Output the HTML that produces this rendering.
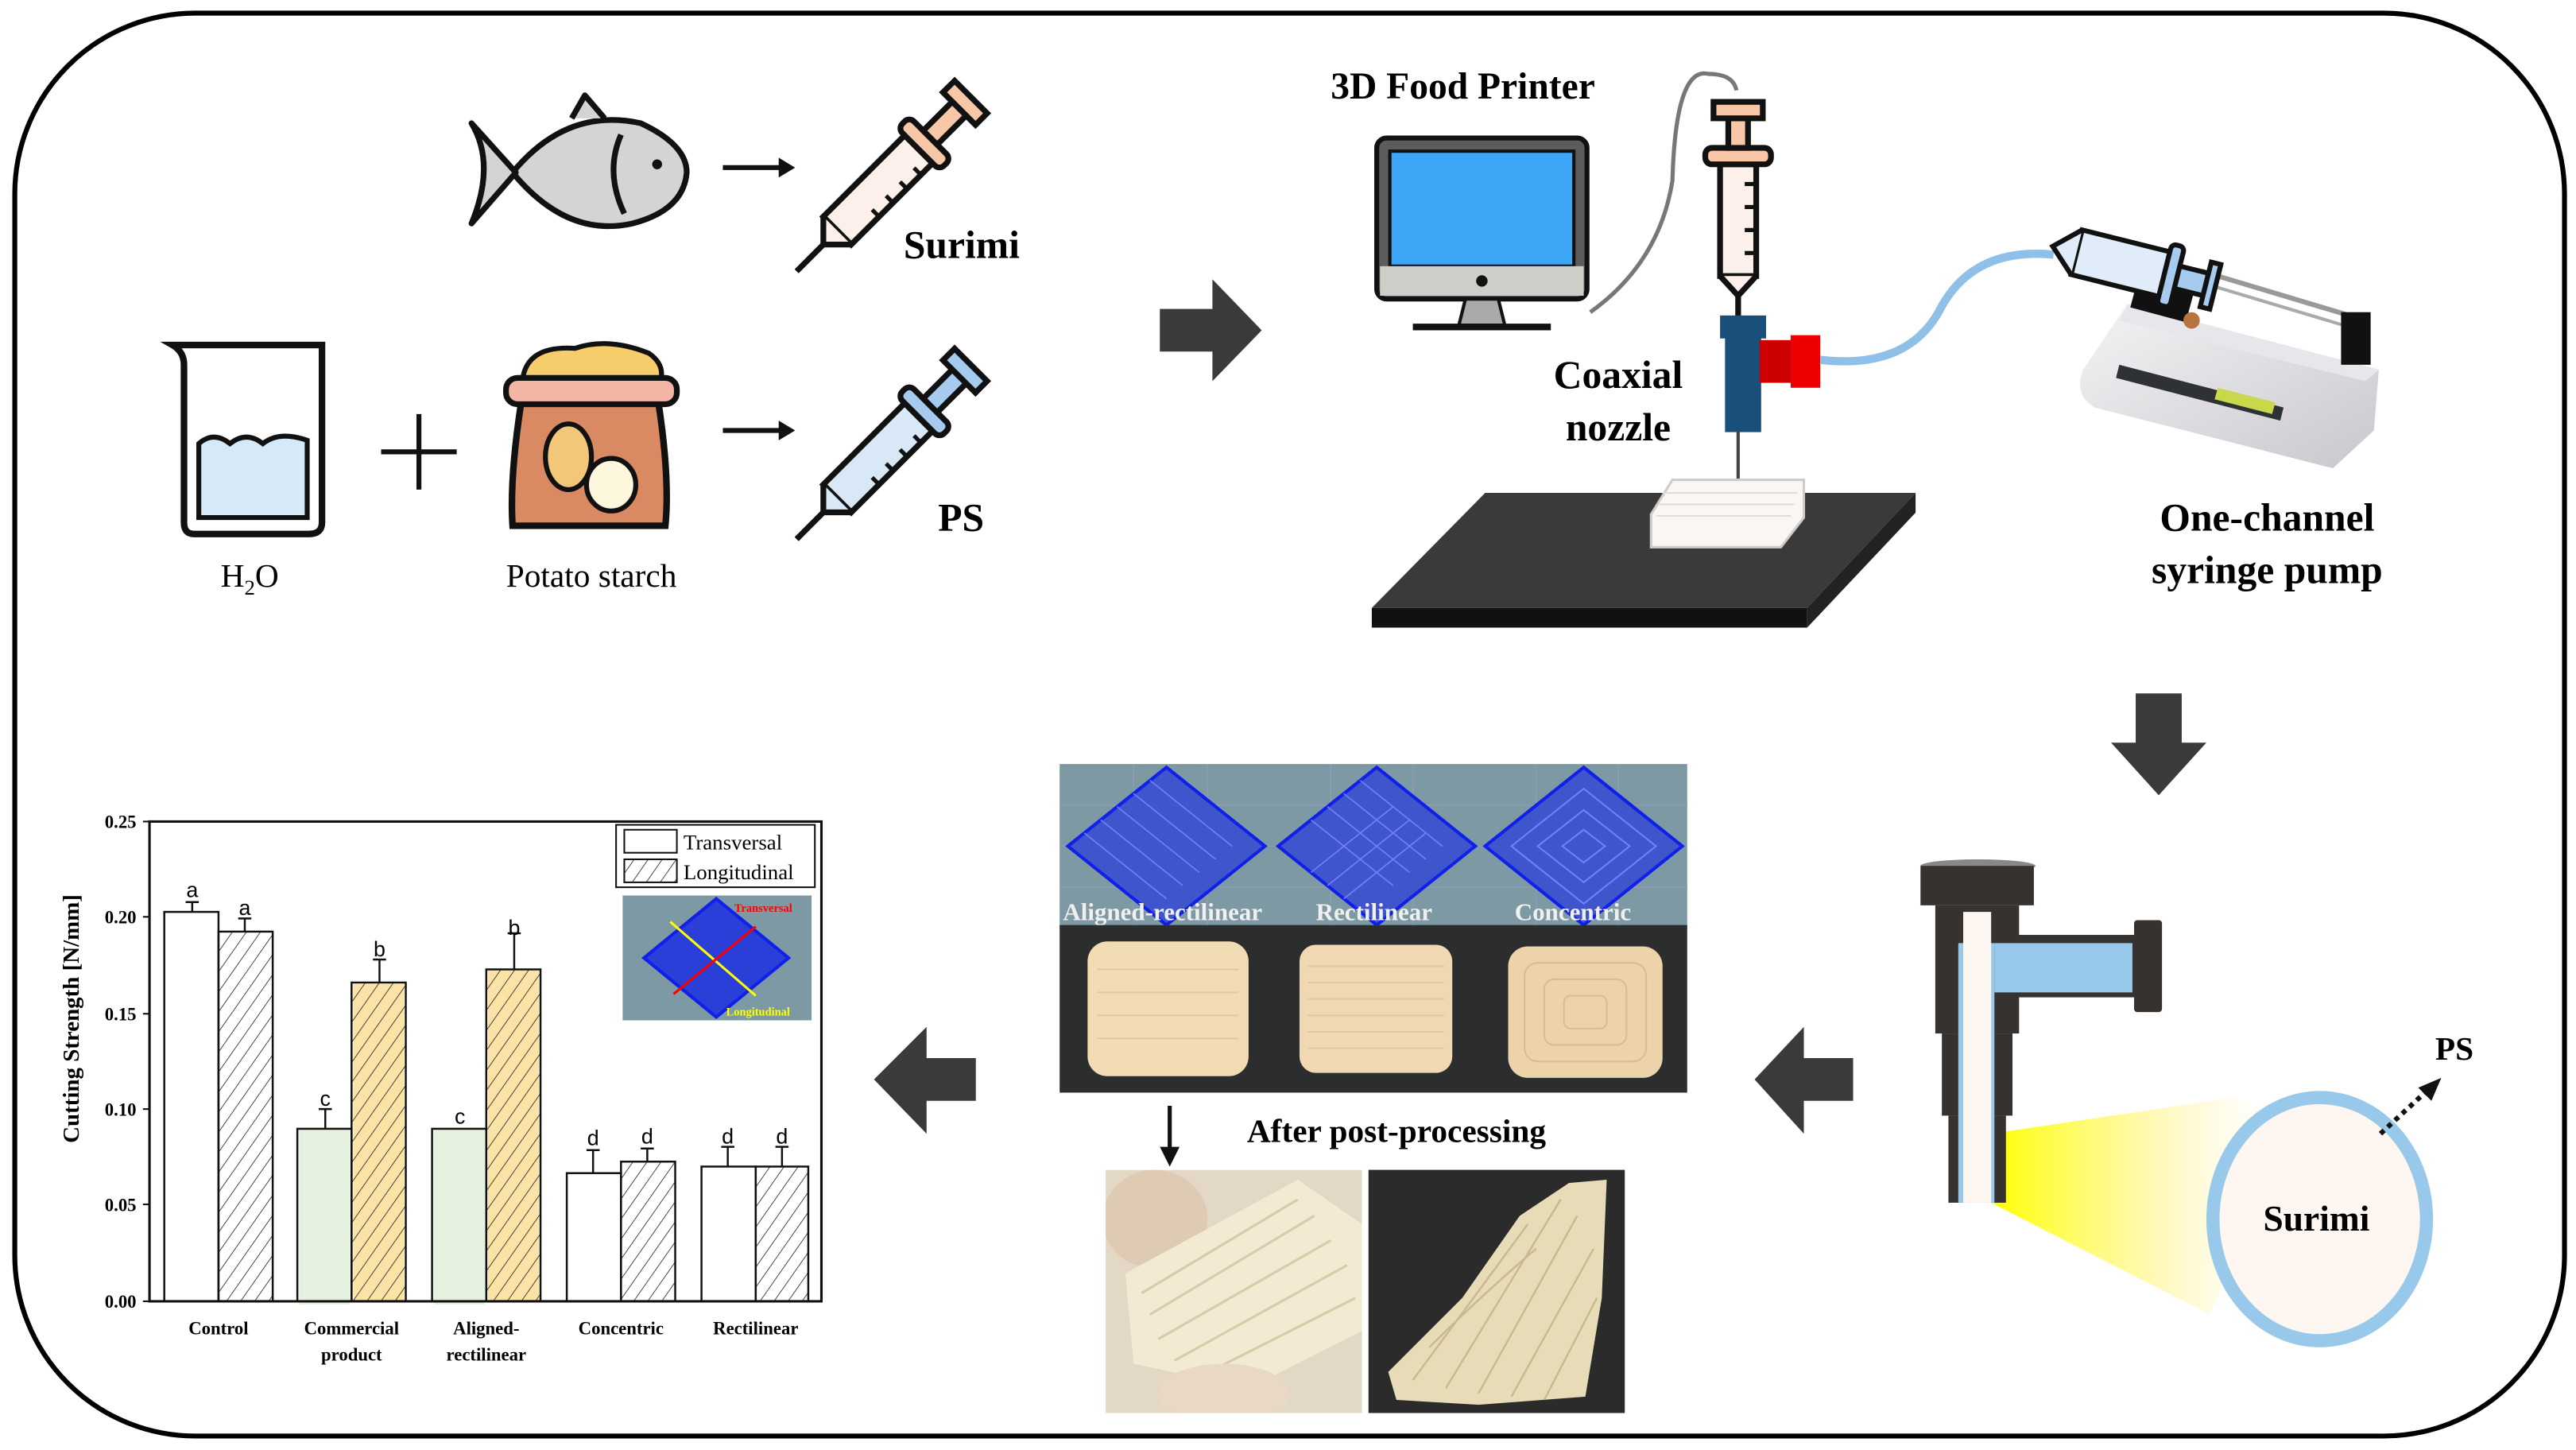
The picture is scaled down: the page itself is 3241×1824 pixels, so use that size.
<!DOCTYPE html>
<html><head><meta charset="utf-8"><style>
html,body{margin:0;padding:0;background:#fff;}
svg{display:block;}
.s{font-family:"Liberation Serif",serif;}
.b{font-family:"Liberation Serif",serif;font-weight:bold;}
.a{font-family:"Liberation Sans",sans-serif;}
</style></head><body>
<svg width="3241" height="1824" viewBox="0 0 1568 882.5" preserveAspectRatio="none" xmlns="http://www.w3.org/2000/svg">
<defs>
<pattern id="h" width="7" height="7" patternUnits="userSpaceOnUse" patternTransform="rotate(35)"><line x1="0" y1="0" x2="0" y2="7" stroke="#222" stroke-width="0.8"/></pattern>
<linearGradient id="yl" x1="0" x2="1"><stop offset="0" stop-color="#ffff00"/><stop offset="0.6" stop-color="#fff6b0" stop-opacity="0.7"/><stop offset="1" stop-color="#fff" stop-opacity="0"/></linearGradient>
<linearGradient id="pump" x1="0" x2="1" y1="0" y2="1"><stop offset="0" stop-color="#f4f3f5"/><stop offset="1" stop-color="#c9c7cc"/></linearGradient>
<clipPath id="p1"><rect x="673" y="712" width="156" height="148"/></clipPath>
</defs>
<rect x="9" y="8" width="1552" height="866" rx="110" fill="#fff" stroke="#000" stroke-width="3"/>

<g stroke="#111" stroke-width="3.5" stroke-linejoin="round">
<path d="M312,105 Q345,65 390,75 Q418,88 418,105 Q416,128 385,136 Q345,145 312,105Z" fill="#d4d4d4"/>
<path d="M314,105 L287,75 Q302,100 287,136 Z" fill="#d4d4d4"/>
<path d="M348,72 L356,58 L368,72" fill="#d4d4d4"/>
<path d="M378,82 Q368,105 380,130" fill="none"/>
</g>
<circle cx="400" cy="100" r="3" fill="#111"/>
<g stroke="#111" stroke-width="3"><line x1="440" y1="102" x2="476" y2="102"/><line x1="440" y1="262" x2="476" y2="262"/></g>
<path d="M474,96 L484,102 L474,108Z M474,256 L484,262 L474,268Z" fill="#111"/>
<g transform="translate(545,105) rotate(45)" stroke="#111" stroke-width="3.5">
<line x1="0" y1="60" x2="0" y2="85"/><rect x="-12" y="-20" width="24" height="70" fill="#fdf0ea"/><path d="M-12,50 L0,62 L12,50" fill="#fdf0ea"/>
<g stroke-width="2.5"><line x1="6" y1="-10" x2="12" y2="-10"/><line x1="6" y1="2" x2="12" y2="2"/><line x1="6" y1="14" x2="12" y2="14"/><line x1="6" y1="26" x2="12" y2="26"/></g>
<rect x="-18" y="-30" width="36" height="10" rx="4" fill="#f7c7a8"/><rect x="-6" y="-55" width="12" height="25" fill="#f7c7a8"/><rect x="-14" y="-65" width="28" height="10" fill="#f7c7a8"/>
</g>
<g transform="translate(545,268) rotate(45)" stroke="#111" stroke-width="3.5">
<line x1="0" y1="60" x2="0" y2="85"/><rect x="-12" y="-20" width="24" height="70" fill="#d8e8f7"/><path d="M-12,50 L0,62 L12,50" fill="#d8e8f7"/>
<g stroke-width="2.5"><line x1="6" y1="-10" x2="12" y2="-10"/><line x1="6" y1="2" x2="12" y2="2"/><line x1="6" y1="14" x2="12" y2="14"/><line x1="6" y1="26" x2="12" y2="26"/></g>
<rect x="-18" y="-30" width="36" height="10" rx="4" fill="#a7cbef"/><rect x="-6" y="-55" width="12" height="25" fill="#a7cbef"/><rect x="-14" y="-65" width="28" height="10" fill="#a7cbef"/>
</g>
<text x="550" y="157" class="b" font-size="24">Surimi</text>
<text x="571" y="323" class="b" font-size="24">PS</text>
<path d="M105,210 L196,210 L196,318 Q196,325 188,325 L118,325 Q112,325 112,318 L112,222 Q112,214 105,210Z" fill="#fff" stroke="#111" stroke-width="4"/>
<path d="M121,270 Q130,262 140,270 Q150,262 160,270 Q170,262 187,268 L187,315 L121,315Z" fill="#d6e9f8" stroke="#111" stroke-width="3"/>
<g stroke="#111" stroke-width="3"><line x1="255" y1="252" x2="255" y2="298"/><line x1="232" y1="275" x2="278" y2="275"/></g>
<path d="M318,240 Q310,290 312,320 L405,320 Q408,290 400,240Z" fill="#d98a63" stroke="#111" stroke-width="4"/>
<path d="M318,232 Q320,210 350,212 Q370,205 395,215 Q405,222 402,232Z" fill="#f6cd6b" stroke="#111" stroke-width="3"/>
<rect x="308" y="230" width="104" height="16" rx="7" fill="#f3b6a4" stroke="#111" stroke-width="3.5"/>
<ellipse cx="346" cy="278" rx="14" ry="20" fill="#f3c77a" stroke="#111" stroke-width="3"/>
<ellipse cx="372" cy="295" rx="15" ry="16" fill="#fdf7dd" stroke="#111" stroke-width="3"/>
<text x="152" y="357" class="s" font-size="20" text-anchor="middle">H<tspan font-size="13" dy="5">2</tspan><tspan dy="-5">O</tspan></text>
<text x="360" y="357" class="s" font-size="20" text-anchor="middle">Potato starch</text>

<g fill="#3a3a3a">
<path d="M706,188 L738,188 L738,170 L768,201 L738,232 L738,214 L706,214Z"/>
<path d="M1300,422 L1328,422 L1328,452 L1343,452 L1314,484 L1285,452 L1300,452Z"/>
<path d="M1128,644 L1098,644 L1098,625 L1068,657 L1098,690 L1098,670 L1128,670Z"/>
<path d="M594,644 L564,644 L564,625 L532,657 L564,690 L564,670 L594,670Z"/>
</g>

<text x="810" y="60" class="b" font-size="23">3D Food Printer</text>
<path d="M968,190 Q1010,160 1018,110 Q1020,40 1040,45 Q1055,45 1057,55" fill="none" stroke="#777" stroke-width="2.5"/>
<rect x="838" y="84" width="128" height="98" rx="6" fill="#5a5c5e" stroke="#111" stroke-width="3"/>
<rect x="846" y="92" width="112" height="70" fill="#3ea6f7" stroke="#111" stroke-width="2"/>
<rect x="840" y="162" width="124" height="18" fill="#d0cec9"/>
<circle cx="902" cy="171" r="3.5" fill="#111"/>
<path d="M892,182 L912,182 L916,198 L888,198Z" fill="#aaa" stroke="#111" stroke-width="2"/>
<line x1="860" y1="199" x2="944" y2="199" stroke="#111" stroke-width="4"/>
<g stroke="#111" stroke-width="3.5">
<rect x="1047" y="100" width="22" height="68" fill="#fdf0ea"/><path d="M1047,168 L1058,180 L1069,168" fill="#fdf0ea"/>
<g stroke-width="2.5"><line x1="1062" y1="112" x2="1069" y2="112"/><line x1="1062" y1="126" x2="1069" y2="126"/><line x1="1062" y1="140" x2="1069" y2="140"/><line x1="1062" y1="154" x2="1069" y2="154"/></g>
<rect x="1038" y="90" width="40" height="10" rx="4" fill="#f7c7a8"/><rect x="1052" y="72" width="12" height="18" fill="#f7c7a8"/><rect x="1043" y="62" width="30" height="10" fill="#f7c7a8"/>
<line x1="1058" y1="180" x2="1058" y2="193"/>
</g>
<rect x="1047" y="192" width="28" height="14" fill="#1a4f7a"/>
<rect x="1050" y="205" width="22" height="58" fill="#1a4f7a"/>
<rect x="1071" y="207" width="22" height="26" fill="#c00"/><rect x="1090" y="204" width="18" height="32" fill="#e00"/>
<line x1="1058" y1="262" x2="1058" y2="295" stroke="#444" stroke-width="2"/>
<path d="M904,300 L1166,300 L1100,370 L835,370Z" fill="#3a3a3a"/>
<path d="M835,370 L1100,370 L1100,382 L835,382Z" fill="#111"/>
<path d="M1100,370 L1166,300 L1166,312 L1100,382Z" fill="#222"/>
<path d="M1018,292 L1098,292 L1098,315 L1084,333 L1005,333 L1005,313Z" fill="#fbf6f1" stroke="#ccc" stroke-width="1.5"/>
<g stroke="#ddd" stroke-width="1"><line x1="1012" y1="300" x2="1094" y2="300"/><line x1="1010" y1="307" x2="1092" y2="307"/><line x1="1008" y1="314" x2="1090" y2="314"/></g>
<text x="985" y="236" class="b" font-size="24" text-anchor="middle">Coaxial</text>
<text x="985" y="268" class="b" font-size="24" text-anchor="middle">nozzle</text>
<path d="M1108,219 Q1160,225 1180,190 Q1200,150 1250,155" fill="none" stroke="#8fc1e8" stroke-width="5"/>
<path d="M1295,185 L1448,225 L1445,262 L1420,285 L1275,248 Q1262,240 1268,225 Z" fill="url(#pump)"/>
<path d="M1295,185 L1448,225 L1440,232 L1290,195Z" fill="#e8e6ea"/>
<path d="M1290,222 L1390,248 L1388,256 L1288,230Z" fill="#2e3236"/>
<path d="M1350,236 L1385,245 L1383,252 L1348,243Z" fill="#c8d84a"/>
<line x1="1340" y1="165" x2="1430" y2="192" stroke="#999" stroke-width="3"/>
<line x1="1340" y1="172" x2="1430" y2="199" stroke="#aaa" stroke-width="2"/>
<rect x="1425" y="190" width="18" height="32" fill="#111"/>
<rect x="1300" y="162" width="35" height="30" fill="#111" transform="rotate(15 1317 177)"/>
<circle cx="1334" cy="195" r="5" fill="#b8733f"/>
<g transform="translate(1298,162) rotate(-76)" stroke="#111" stroke-width="3">
<rect x="-14" y="-35" width="28" height="55" fill="#e0ecfa"/><path d="M-14,-35 L0,-50 L14,-35" fill="#e0ecfa"/>
<rect x="-19" y="20" width="38" height="8" rx="3" fill="#a7cbef"/><rect x="-7" y="28" width="14" height="18" fill="#a7cbef"/><rect x="-14" y="46" width="28" height="6" fill="#a7cbef"/>
</g>
<text x="1380" y="323" class="b" font-size="24" text-anchor="middle">One-channel</text>
<text x="1380" y="355" class="b" font-size="24" text-anchor="middle">syringe pump</text>

<path d="M1212,690 L1212,732 L1345,800 L1400,690 L1360,668Z" fill="url(#yl)"/>
<ellipse cx="1204" cy="527" rx="35" ry="4" fill="#888"/>
<rect x="1169" y="527" width="69" height="24" fill="#353230"/>
<rect x="1178" y="551" width="51" height="78" fill="#353230"/>
<rect x="1182" y="629" width="43" height="50" fill="#353230"/>
<rect x="1186" y="679" width="35" height="53" fill="#353230"/>
<rect x="1228" y="569" width="72" height="38" fill="#353230"/>
<rect x="1299" y="560" width="17" height="56" rx="2" fill="#353230"/>
<rect x="1192" y="574" width="22" height="158" fill="#99c9ea"/>
<rect x="1214" y="574" width="84" height="30" fill="#99c9ea"/>
<rect x="1195" y="555" width="17" height="177" fill="#fdf6f1"/>
<ellipse cx="1412" cy="742" rx="65" ry="74" fill="#fdf6f1" stroke="#99c9ea" stroke-width="8"/>
<text x="1410" y="749" class="b" font-size="22" text-anchor="middle">Surimi</text>
<line x1="1449" y1="690" x2="1476" y2="665" stroke="#111" stroke-width="3" stroke-dasharray="3,3"/>
<path d="M1472,662 L1486,656 L1480,670Z" fill="#111"/>
<text x="1494" y="645" class="b" font-size="20" text-anchor="middle">PS</text>

<rect x="645" y="465" width="382" height="100" fill="#7d9aa4"/>
<g stroke="#8e9ab8" stroke-width="0.7">
<line x1="645" y1="490" x2="1027" y2="490"/><line x1="645" y1="515" x2="1027" y2="515"/><line x1="645" y1="540" x2="1027" y2="540"/>
<line x1="690" y1="465" x2="690" y2="565"/><line x1="735" y1="465" x2="735" y2="565"/><line x1="810" y1="465" x2="810" y2="565"/><line x1="860" y1="465" x2="860" y2="565"/><line x1="935" y1="465" x2="935" y2="565"/><line x1="985" y1="465" x2="985" y2="565"/>
</g>
<g fill="#2a3ed8" fill-opacity="0.75" stroke="#1020e8" stroke-width="2">
<path d="M710,467 L770,515 L710,563 L650,515Z"/>
<path d="M838,467 L898,515 L838,563 L778,515Z"/>
<path d="M964,467 L1024,515 L964,563 L904,515Z"/>
</g>
<g stroke="#7080ff" stroke-width="0.8">
<line x1="690" y1="483" x2="740" y2="523"/><line x1="680" y1="491" x2="730" y2="531"/><line x1="670" y1="499" x2="720" y2="539"/><line x1="700" y1="475" x2="750" y2="515"/><line x1="660" y1="507" x2="710" y2="547"/>
<path d="M808,491 L858,531 M818,483 L868,523 M828,475 L878,515 M798,499 L848,539 M808,539 L858,499 M818,547 L868,507 M798,531 L848,491"/>
</g>
<g stroke="#7080ff" stroke-width="1" fill="none">
<path d="M964,480 L1008,515 L964,550 L920,515Z M964,493 L992,515 L964,537 L936,515Z M964,505 L977,515 L964,525 L951,515Z"/>
</g>
<g class="b" font-size="15" fill="#f0f0f0"><text x="647" y="560">Aligned-rectilinear</text><text x="801" y="560">Rectilinear</text><text x="922" y="560">Concentric</text></g>
<rect x="645" y="563" width="382" height="102" fill="#2c2d2f"/>
<rect x="662" y="573" width="98" height="82" rx="12" fill="#f1dcb4"/>
<rect x="791" y="575" width="93" height="78" rx="10" fill="#f0d9b2"/>
<rect x="918" y="576" width="94" height="80" rx="12" fill="#ecd3a9"/>
<g stroke="#e2c89c" stroke-width="1"><line x1="668" y1="590" x2="754" y2="590"/><line x1="668" y1="604" x2="754" y2="604"/><line x1="668" y1="618" x2="754" y2="618"/><line x1="668" y1="632" x2="754" y2="632"/>
<line x1="796" y1="588" x2="879" y2="588"/><line x1="796" y1="598" x2="879" y2="598"/><line x1="796" y1="608" x2="879" y2="608"/><line x1="796" y1="618" x2="879" y2="618"/><line x1="796" y1="628" x2="879" y2="628"/><line x1="796" y1="638" x2="879" y2="638"/></g>
<g fill="none" stroke="#d9bd90" stroke-width="1"><rect x="928" y="586" width="74" height="60" rx="8"/><rect x="940" y="596" width="50" height="40" rx="6"/><rect x="952" y="606" width="26" height="20" rx="4"/></g>
<line x1="712" y1="673" x2="712" y2="700" stroke="#111" stroke-width="2.5"/>
<path d="M706,698 L712,710 L718,698Z" fill="#111"/>
<text x="850" y="695" class="b" font-size="20" text-anchor="middle">After post-processing</text>
<g clip-path="url(#p1)">
<rect x="673" y="712" width="156" height="148" fill="#e3d7c6"/>
<ellipse cx="703" cy="742" rx="32" ry="30" fill="#dfcbb4"/>
<path d="M685,775 L790,718 L829,745 L829,810 L760,845 L690,830Z" fill="#f2ead3"/>
<g stroke="#d8cba8" stroke-width="1.5" fill="none"><path d="M700,800 L800,740 M705,815 L810,755 M715,828 L820,770 M730,838 L825,790 M695,787 L790,730"/></g>
<ellipse cx="745" cy="848" rx="40" ry="18" fill="#e9d9c4"/>
</g>
<rect x="833" y="712" width="156" height="148" fill="#2a2b2a"/>
<path d="M845,835 L890,790 L925,740 L955,720 L978,718 L975,790 L965,850 L900,855 L850,852Z" fill="#e8dcb8"/>
<g stroke="#c9b98e" stroke-width="1.2" fill="none"><path d="M860,840 L930,745 M880,845 L950,730 M900,848 L960,740 M920,850 L970,760 M940,852 L972,790 M870,820 Q900,790 935,760"/></g>

<g class="b" font-size="11" text-anchor="end">
<text x="83" y="504">0.25</text><text x="83" y="562">0.20</text><text x="83" y="621">0.15</text><text x="83" y="679">0.10</text><text x="83" y="737">0.05</text><text x="83" y="796">0.00</text>
</g>
<g stroke="#111" stroke-width="1">
<line x1="87" y1="500" x2="91" y2="500"/><line x1="87" y1="558" x2="91" y2="558"/><line x1="87" y1="617" x2="91" y2="617"/><line x1="87" y1="675" x2="91" y2="675"/><line x1="87" y1="733" x2="91" y2="733"/><line x1="87" y1="792" x2="91" y2="792"/>
</g>
<text transform="translate(48,620) rotate(-90)" class="b" font-size="14" text-anchor="middle">Cutting Strength [N/mm]</text>
<rect x="182" y="687" width="31" height="107" fill="#e6f1df"/>
<rect x="264" y="687" width="31" height="107" fill="#e6f1df"/>
<rect x="215" y="599" width="31" height="193" fill="#fbe3a6"/>
<rect x="297" y="590" width="31" height="202" fill="#fbe3a6"/>
<g stroke="#111" stroke-width="1.2">
<rect x="100" y="555" width="33" height="237" fill="#fff"/>
<rect x="133" y="567" width="33" height="225" fill="url(#h)"/>
<rect x="181" y="687" width="33" height="105" fill="none"/>
<rect x="214" y="598" width="33" height="194" fill="url(#h)"/>
<rect x="263" y="687" width="33" height="105" fill="none"/>
<rect x="296" y="590" width="33" height="202" fill="url(#h)"/>
<rect x="345" y="714" width="33" height="78" fill="#fff"/>
<rect x="378" y="707" width="33" height="85" fill="url(#h)"/>
<rect x="427" y="710" width="33" height="82" fill="#fff"/>
<rect x="460" y="710" width="32" height="82" fill="url(#h)"/>
<path d="M117,555V549M113,549H121 M149,567V559M145,559H153 M198,687V675M194,675H202 M231,598V584M227,584H235 M313,590V568M309,568H317 M361,714V700M357,700H365 M394,707V699M390,699H398 M443,710V698M439,698H447 M476,710V698M472,698H480" fill="none"/>
</g>
<rect x="91" y="500" width="409" height="292" fill="none" stroke="#111" stroke-width="1.5"/>
<g class="a" font-size="13" text-anchor="middle">
<text x="117" y="546">a</text><text x="149" y="557">a</text><text x="198" y="673">c</text><text x="231" y="582">b</text><text x="280" y="684">c</text><text x="313" y="569">b</text><text x="361" y="697">d</text><text x="394" y="696">d</text><text x="443" y="696">d</text><text x="476" y="696">d</text>
</g>
<g class="b" font-size="11" text-anchor="middle">
<text x="133" y="812">Control</text><text x="214" y="812">Commercial</text><text x="214" y="828">product</text><text x="296" y="812">Aligned-</text><text x="296" y="828">rectilinear</text><text x="378" y="812">Concentric</text><text x="460" y="812">Rectilinear</text>
</g>
<rect x="375" y="502" width="121" height="38" fill="#fff" stroke="#111" stroke-width="1"/>
<rect x="380" y="505" width="32" height="14" fill="#fff" stroke="#111"/>
<rect x="380" y="523" width="32" height="14" fill="url(#h)" stroke="#111"/>
<g class="s" font-size="13"><text x="416" y="517">Transversal</text><text x="416" y="535">Longitudinal</text></g>
<rect x="379" y="545" width="115" height="76" fill="#7d9aa4"/>
<path d="M436,547 L480,583 L436,619 L392,583Z" fill="#2a3ed8" stroke="#1020e8" stroke-width="2"/>
<line x1="408" y1="561" x2="460" y2="606" stroke="#ff0" stroke-width="1.5"/>
<line x1="460" y1="564" x2="410" y2="605" stroke="#f00" stroke-width="1.5"/>
<text x="447" y="555" class="b" font-size="7" fill="#f00">Transversal</text>
<text x="442" y="618" class="b" font-size="7" fill="#ff0">Longitudinal</text>
</svg>
</body></html>
